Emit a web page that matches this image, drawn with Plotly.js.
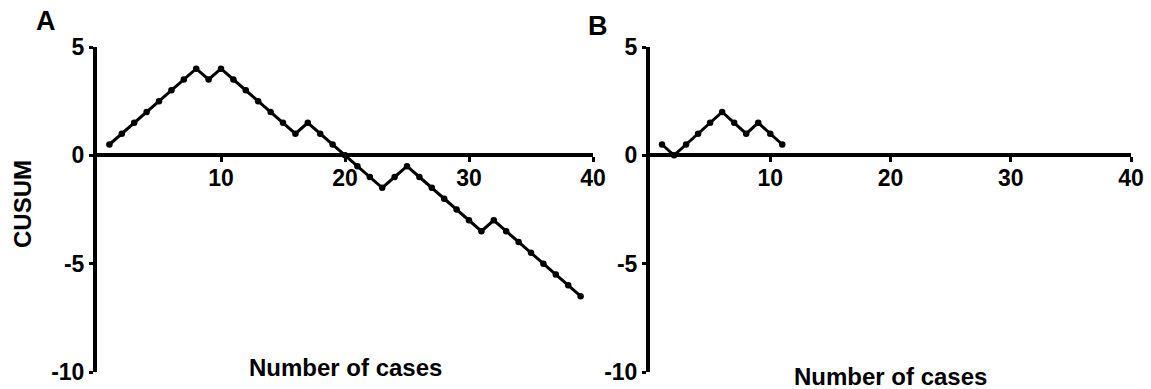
<!DOCTYPE html>
<html>
<head>
<meta charset="utf-8">
<script src="https://cdn.plot.ly/plotly-3.0.1.min.js"></script>
<style>html,body{margin:0;padding:0;background:#fff}#chart{width:1151px;height:389px}</style>
</head>
<body>
<div id="chart"></div>
<script>
const casesA = [1,2,3,4,5,6,7,8,9,10,11,12,13,14,15,16,17,18,19,20,21,22,23,24,25,26,27,28,29,30,31,32,33,34,35,36,37,38,39];
const cusumA = [0.5,1,1.5,2,2.5,3,3.5,4,3.5,4,3.5,3,2.5,2,1.5,1,1.5,1,0.5,0,-0.5,-1,-1.5,-1,-0.5,-1,-1.5,-2,-2.5,-3,-3.5,-3,-3.5,-4,-4.5,-5,-5.5,-6,-6.5];
const casesB = [1,2,3,4,5,6,7,8,9,10,11];
const cusumB = [0.5,0,0.5,1,1.5,2,1.5,1,1.5,1,0.5];
const xTicks = [10,20,30,40];
const xTickText = ["10","20","30","40"];
const yTicks = [-10,-5,0,5];
const yTickText = ["-10","-5","0","5"];
const panelLabels = ["A","B"];
const xTitle = "Number of cases";
const yTitle = "CUSUM";

const W = 1151, H = 389;
const FONT = "Liberation Sans, Arial, sans-serif";
const yDom = [(H-372)/H, (H-47)/H];
const xDomA = [97/W, 593/W];
const xDomB = [650/W, 1131/W];
const zeroPos = yDom[0] + (10/15)*(yDom[1]-yDom[0]);
const b = s => "<b>" + s + "</b>";

const lineStyle = {color:'#000', width:3};
const markerStyle = {color:'#000', size:6.5};

const traces = [
  {x:casesA, y:cusumA, xaxis:'x', yaxis:'y', mode:'lines+markers', line:lineStyle, marker:markerStyle, cliponaxis:false},
  {x:casesB, y:cusumB, xaxis:'x2', yaxis:'y2', mode:'lines+markers', line:lineStyle, marker:markerStyle, cliponaxis:false}
];

function xAxis(dom){
  return {domain:dom, range:[0,40], anchor:'free', position:zeroPos,
    showline:true, linecolor:'#000', linewidth:4, showgrid:false, zeroline:false,
    tickmode:'array', tickvals:xTicks, ticktext:xTickText.map(b), ticks:'outside', ticklen:5, tickwidth:3, tickcolor:'#000',
    ticklabelstandoff:-4,
    tickfont:{family:FONT, size:23, color:'#000'}, fixedrange:true};
}
function yAxis(anchor){
  return {domain:yDom, range:[-10,5], anchor:anchor, showline:true, linecolor:'#000', linewidth:4,
    showgrid:false, zeroline:false,
    tickmode:'array', tickvals:yTicks, ticktext:yTickText.map(b), ticks:'outside', ticklen:4, tickwidth:3, tickcolor:'#000',
    tickfont:{family:FONT, size:23, color:'#000'}, fixedrange:true};
}

const annFont = {family:FONT, color:'#000'};
const layout = {
  width:W, height:H, margin:{l:0,r:0,t:0,b:0}, paper_bgcolor:'#fff', plot_bgcolor:'#fff',
  showlegend:false,
  xaxis:xAxis(xDomA), yaxis:yAxis('x'),
  xaxis2:xAxis(xDomB), yaxis2:yAxis('x2'),
  annotations:[
    {text:b(panelLabels[0]), xref:'paper', yref:'paper', x:46/W, y:(H-21)/H, showarrow:false, xanchor:'center', yanchor:'middle', font:Object.assign({size:27}, annFont)},
    {text:b(panelLabels[1]), xref:'paper', yref:'paper', x:598/W, y:(H-26)/H, showarrow:false, xanchor:'center', yanchor:'middle', font:Object.assign({size:27}, annFont)},
    {text:b(yTitle), xref:'paper', yref:'paper', x:22/W, y:(H-204)/H, showarrow:false, textangle:-90, xanchor:'center', yanchor:'middle', font:Object.assign({size:24}, annFont)},
    {text:b(xTitle), xref:'paper', yref:'paper', x:(xDomA[0]+xDomA[1])/2, y:(H-367)/H, showarrow:false, xanchor:'center', yanchor:'middle', font:Object.assign({size:24}, annFont)},
    {text:b(xTitle), xref:'paper', yref:'paper', x:(xDomB[0]+xDomB[1])/2, y:(H-376)/H, showarrow:false, xanchor:'center', yanchor:'middle', font:Object.assign({size:24}, annFont)}
  ]
};
Plotly.newPlot('chart', traces, layout, {staticPlot:true});
</script>
</body>
</html>
